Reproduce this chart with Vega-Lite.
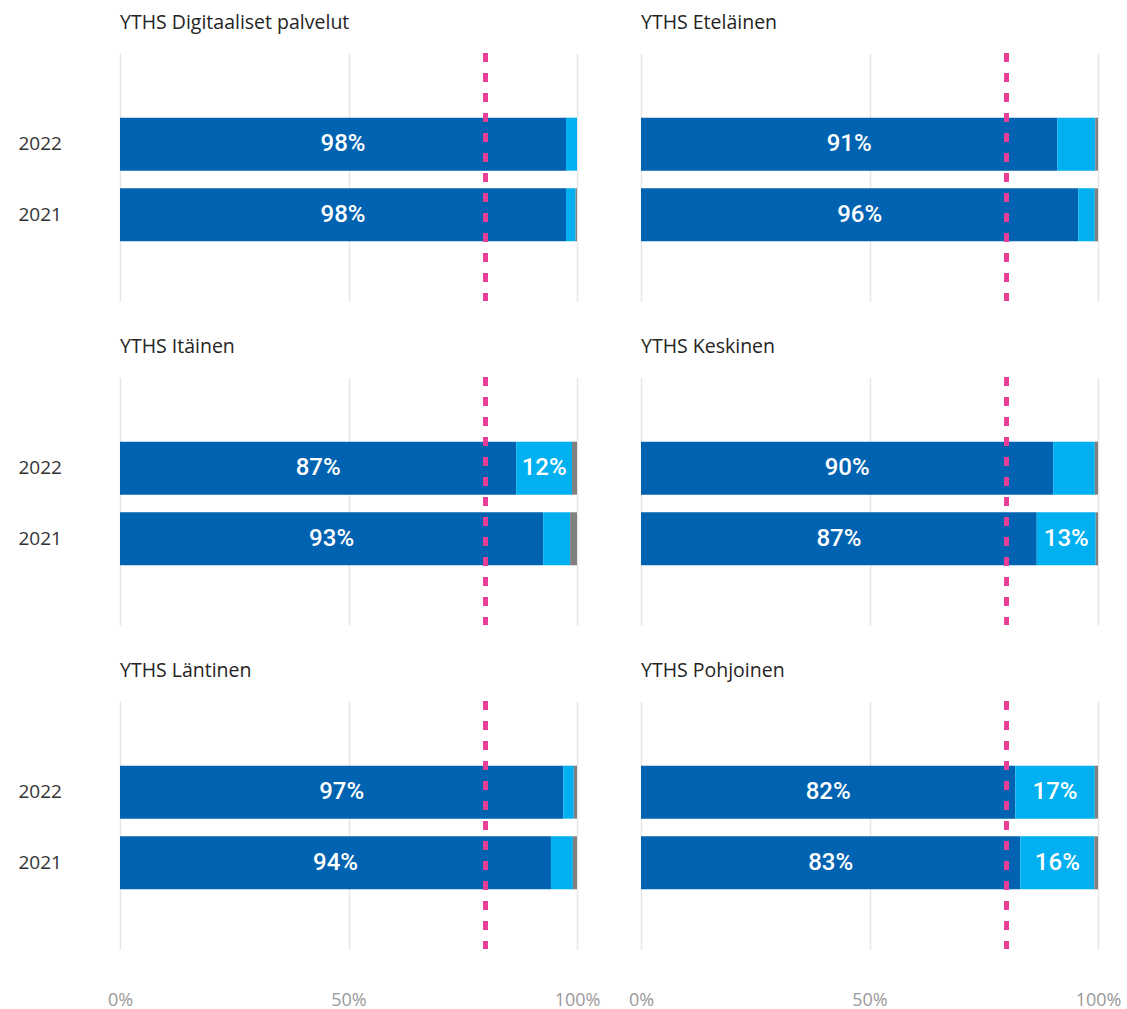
{
  "$schema": "https://vega.github.io/schema/vega-lite/v6.json",
  "background": "white",
  "padding": {"left": 18, "top": 12, "right": 10, "bottom": 0},
  "config": {"view": {"stroke": null}, "font": "Open Sans"},
  "data": {"values": [
    {"region": "YTHS Digitaaliset palvelut", "year": "2022", "category": "Kyllä", "value": 0.976},
    {"region": "YTHS Digitaaliset palvelut", "year": "2022", "category": "Osittain", "value": 0.024},
    {"region": "YTHS Digitaaliset palvelut", "year": "2022", "category": "Tyhjä", "value": 0.0},
    {"region": "YTHS Digitaaliset palvelut", "year": "2021", "category": "Kyllä", "value": 0.976},
    {"region": "YTHS Digitaaliset palvelut", "year": "2021", "category": "Osittain", "value": 0.021},
    {"region": "YTHS Digitaaliset palvelut", "year": "2021", "category": "Tyhjä", "value": 0.003},
    {"region": "YTHS Eteläinen", "year": "2022", "category": "Kyllä", "value": 0.911},
    {"region": "YTHS Eteläinen", "year": "2022", "category": "Osittain", "value": 0.083},
    {"region": "YTHS Eteläinen", "year": "2022", "category": "Tyhjä", "value": 0.006},
    {"region": "YTHS Eteläinen", "year": "2021", "category": "Kyllä", "value": 0.957},
    {"region": "YTHS Eteläinen", "year": "2021", "category": "Osittain", "value": 0.036},
    {"region": "YTHS Eteläinen", "year": "2021", "category": "Tyhjä", "value": 0.007},
    {"region": "YTHS Itäinen", "year": "2022", "category": "Kyllä", "value": 0.867},
    {"region": "YTHS Itäinen", "year": "2022", "category": "Osittain", "value": 0.122},
    {"region": "YTHS Itäinen", "year": "2022", "category": "Tyhjä", "value": 0.011},
    {"region": "YTHS Itäinen", "year": "2021", "category": "Kyllä", "value": 0.926},
    {"region": "YTHS Itäinen", "year": "2021", "category": "Osittain", "value": 0.059},
    {"region": "YTHS Itäinen", "year": "2021", "category": "Tyhjä", "value": 0.015},
    {"region": "YTHS Keskinen", "year": "2022", "category": "Kyllä", "value": 0.902},
    {"region": "YTHS Keskinen", "year": "2022", "category": "Osittain", "value": 0.091},
    {"region": "YTHS Keskinen", "year": "2022", "category": "Tyhjä", "value": 0.007},
    {"region": "YTHS Keskinen", "year": "2021", "category": "Kyllä", "value": 0.866},
    {"region": "YTHS Keskinen", "year": "2021", "category": "Osittain", "value": 0.129},
    {"region": "YTHS Keskinen", "year": "2021", "category": "Tyhjä", "value": 0.005},
    {"region": "YTHS Läntinen", "year": "2022", "category": "Kyllä", "value": 0.970},
    {"region": "YTHS Läntinen", "year": "2022", "category": "Osittain", "value": 0.023},
    {"region": "YTHS Läntinen", "year": "2022", "category": "Tyhjä", "value": 0.007},
    {"region": "YTHS Läntinen", "year": "2021", "category": "Kyllä", "value": 0.943},
    {"region": "YTHS Läntinen", "year": "2021", "category": "Osittain", "value": 0.048},
    {"region": "YTHS Läntinen", "year": "2021", "category": "Tyhjä", "value": 0.009},
    {"region": "YTHS Pohjoinen", "year": "2022", "category": "Kyllä", "value": 0.819},
    {"region": "YTHS Pohjoinen", "year": "2022", "category": "Osittain", "value": 0.174},
    {"region": "YTHS Pohjoinen", "year": "2022", "category": "Tyhjä", "value": 0.007},
    {"region": "YTHS Pohjoinen", "year": "2021", "category": "Kyllä", "value": 0.830},
    {"region": "YTHS Pohjoinen", "year": "2021", "category": "Osittain", "value": 0.162},
    {"region": "YTHS Pohjoinen", "year": "2021", "category": "Tyhjä", "value": 0.008}
  ]},
  "facet": {
    "field": "region",
    "type": "nominal",
    "sort": ["YTHS Digitaaliset palvelut", "YTHS Eteläinen", "YTHS Itäinen", "YTHS Keskinen", "YTHS Läntinen", "YTHS Pohjoinen"],
    "header": {
      "title": null,
      "labelAnchor": "start",
      "labelAlign": "left",
      "labelFont": "Open Sans",
      "labelFontSize": 19.5,
      "labelColor": "#252423",
      "labelPadding": 18
    }
  },
  "columns": 2,
  "spacing": {"column": 48, "row": 33},
  "spec": {
    "width": 457,
    "height": 248,
    "layer": [
      {
        "mark": {"type": "bar"},
        "encoding": {
          "y": {
            "field": "year",
            "type": "ordinal",
            "sort": "descending",
            "scale": {"paddingInner": 0.25, "paddingOuter": 0.88, "align": 0.52},
            "axis": {
              "title": null,
              "domain": false,
              "ticks": false,
              "labelAlign": "left",
              "labelPadding": 102,
              "labelFont": "Open Sans",
              "labelFontSize": 19,
              "labelColor": "#333333"
            }
          },
          "x": {
            "field": "value",
            "type": "quantitative",
            "stack": "zero",
            "scale": {"domain": [0, 1]},
            "axis": {
              "title": null,
              "values": [0, 0.5, 1],
              "format": ".0%",
              "domain": false,
              "ticks": false,
              "grid": true,
              "gridColor": "#e6e6e6",
              "gridWidth": 1.5,
              "labelFlush": false,
              "labelPadding": 40,
              "labelFont": "Open Sans",
              "labelFontSize": 18,
              "labelColor": "#999999"
            }
          },
          "color": {
            "field": "category",
            "type": "nominal",
            "scale": {"domain": ["Kyllä", "Osittain", "Tyhjä"], "range": ["#0063B1", "#00B0F0", "#808080"]},
            "legend": null
          },
          "order": {"field": "category", "sort": "ascending"}
        }
      },
      {
        "mark": {"type": "text", "color": "white", "font": "Roboto", "fontSize": 24, "fontWeight": 500, "align": "center", "baseline": "middle"},
        "encoding": {
          "y": {"field": "year", "type": "ordinal", "sort": "descending"},
          "x": {"field": "value", "type": "quantitative", "stack": "zero", "bandPosition": 0.5},
          "detail": {"field": "category"},
          "order": {"field": "category", "sort": "ascending"},
          "text": {"field": "value", "type": "quantitative", "format": ".0%"},
          "opacity": {"condition": {"test": "datum.value >= 0.1", "value": 1}, "value": 0}
        }
      },
      {
        "mark": {"type": "rule", "color": "#E83E97", "strokeWidth": 4, "strokeDash": [9, 11]},
        "encoding": {"x": {"datum": 0.8}}
      }
    ]
  }
}
